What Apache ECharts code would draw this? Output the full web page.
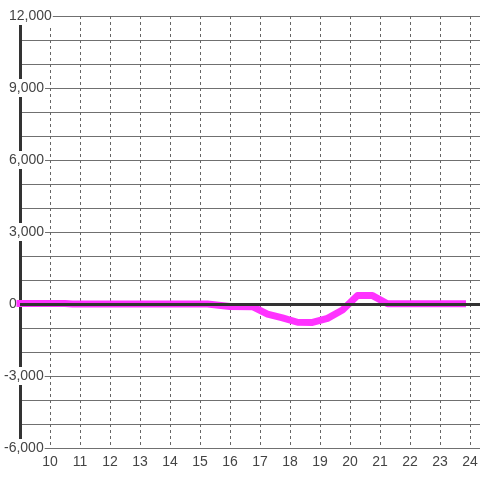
<!DOCTYPE html>
<html>
<head>
<meta charset="utf-8">
<script src="https://cdn.jsdelivr.net/npm/echarts@6/dist/echarts.min.js"></script>
<style>
  html, body { margin: 0; padding: 0; background: #fff; }
  #chart { width: 480px; height: 480px; }
</style>
</head>
<body>
<div id="chart"></div>
<script>
// hours of the day (x) and values (y)
var hours = [9, 10.5, 10.75, 15.25, 16, 16.75, 17.25, 17.75, 18.25, 18.75, 19.25, 19.75, 20.25, 20.75, 21.25, 23.75];
var values = [20, 20, 0, 0, -100, -110, -420, -580, -760, -770, -600, -250, 350, 350, 10, 10];

var xTicks = [10, 11, 12, 13, 14, 15, 16, 17, 18, 19, 20, 21, 22, 23, 24];
var yTicks = [-6000, -3000, 0, 3000, 6000, 9000, 12000];

var lineData = [];
for (var i = 0; i < hours.length; i++) {
  lineData.push([hours[i], values[i]]);
}

var chart = echarts.init(document.getElementById('chart'));

var option = {
  animation: false,
  backgroundColor: '#fff',
  grid: { left: 20, right: 0, top: 16, bottom: 32, containLabel: false, outerBoundsMode: 'none' },
  xAxis: {
    type: 'value',
    min: 9,
    max: 24.3333,
    interval: 1,
    z: 0,
    axisLine: { show: false },
    axisTick: { show: false },
    axisLabel: {
      color: '#444',
      fontSize: 14,
      fontFamily: 'Liberation Sans',
      margin: 7,
      showMaxLabel: false,
      formatter: function (v) {
        return xTicks.indexOf(v) >= 0 ? String(v) : '';
      }
    },
    splitLine: {
      show: true,
      lineStyle: { color: '#666', width: 1, type: [3, 3] }
    }
  },
  yAxis: [
    {
      // grid lines only
      type: 'value',
      position: 'left',
      min: -6000,
      max: 12000,
      interval: 1000,
      z: 0,
      axisLine: { show: false },
      axisTick: { show: false },
      axisLabel: { show: false },
      splitLine: { show: true, lineStyle: { color: '#707070', width: 1 } }
    },
    {
      // axis line and labels on top
      type: 'value',
      position: 'left',
      offset: 0,
      min: -6000,
      max: 12000,
      interval: 1000,
      z: 1,
      axisLine: { show: true, onZero: false, lineStyle: { color: '#333', width: 3 } },
      axisTick: { show: false },
      splitLine: { show: false },
      axisLabel: {
        color: '#444',
        fontSize: 14,
        fontFamily: 'Liberation Sans',
        align: 'left',
        margin: 17,
        backgroundColor: '#fff',
        padding: [2, 1, 2, 1],
        formatter: function (v) {
          if (yTicks.indexOf(v) < 0) return '';
          var s = v.toLocaleString('en-US');
          return v < 0 ? s : '{p|' + s + '}';
        },
        rich: {
          p: { color: '#444', fontSize: 14, fontFamily: 'Liberation Sans', padding: [0, 0, 0, 5] }
        }
      }
    }
  ],
  series: [
    {
      type: 'line',
      data: [],
      z: 1,
      silent: true,
      markLine: {
        silent: true,
        symbol: ['none', 'none'],
        label: { show: false },
        lineStyle: { color: '#333', width: 3, type: 'solid' },
        data: [{ yAxis: 0 }]
      }
    },
    {
      type: 'line',
      data: lineData,
      z: 3,
      showSymbol: false,
      lineStyle: { color: '#ff33ff', width: 7, cap: 'square', join: 'round' },
      itemStyle: { color: '#ff33ff' }
    }
  ]
};

chart.setOption(option);
</script>
</body>
</html>
